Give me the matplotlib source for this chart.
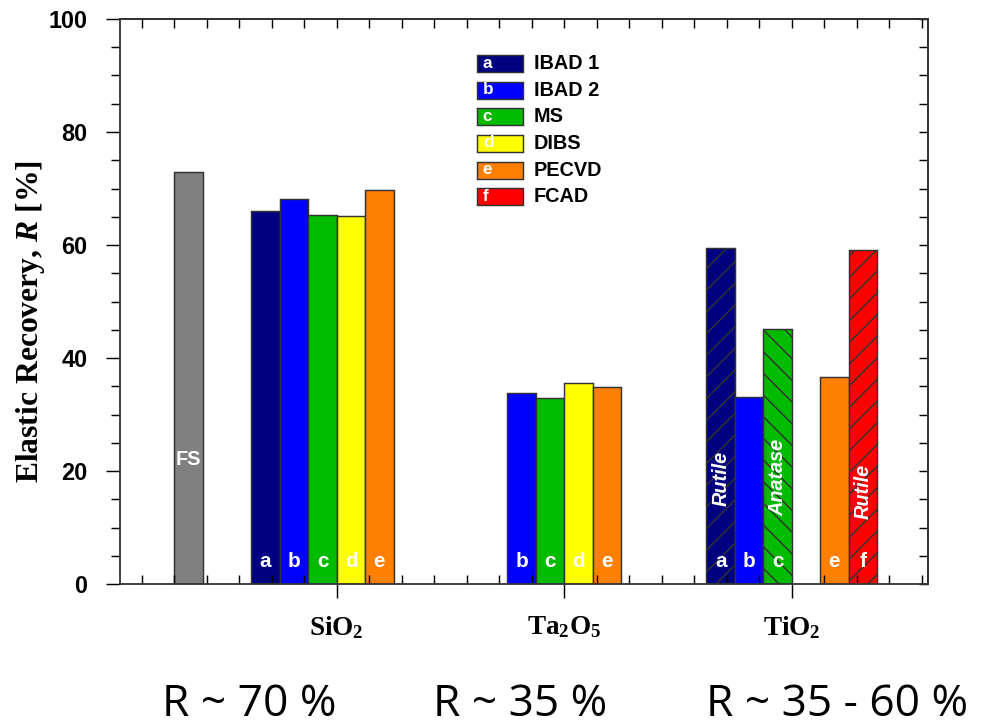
import numpy as np
import matplotlib
matplotlib.use("Agg")
import matplotlib.pyplot as plt
from matplotlib.patches import Rectangle

# Elastic recovery R [%] per deposition method and oxide
methods = ['IBAD 1', 'IBAD 2', 'MS', 'DIBS', 'PECVD', 'FCAD']
letters = ['a', 'b', 'c', 'd', 'e', 'f']
colors = ['#000080', '#0000FF', '#00BB00', '#FFFF00', '#FF8000', '#FF0000']

oxides = ['SiO$_\\mathbf{2}$', 'Ta$_\\mathbf{2}$O$_\\mathbf{5}$', 'TiO$_\\mathbf{2}$']
sio2 = [66.0, 68.1, 65.3, 65.1, 69.7, np.nan]
ta2o5 = [np.nan, 33.8, 32.9, 35.5, 34.8, np.nan]
tio2 = [59.4, 33.1, 45.1, np.nan, 36.7, 59.2]
fs_value = 72.9

tio2_phase = ['Rutile', '', 'Anatase', '', '', 'Rutile']
tio2_hatch = ['//', '', '\\\\', '', '', '//']
tio2_phase_y = [18.6, 0, 18.8, 0, 0, 16.3]

summary = ['R ~ 70 %', 'R ~ 35 %', 'R ~ 35 - 60 %']

DPI = 130
plt.rcParams['mathtext.fontset'] = 'custom'
plt.rcParams['mathtext.rm'] = 'Liberation Serif:bold'
plt.rcParams['mathtext.bf'] = 'Liberation Serif:bold'
plt.rcParams['mathtext.it'] = 'Liberation Serif:bold:italic'
plt.rcParams['hatch.linewidth'] = 0.8

fig = plt.figure(figsize=(981 / DPI, 728 / DPI), dpi=DPI)
ax = fig.add_axes([120 / 981, 1 - 584 / 728, 808 / 981, 565 / 728])

centers = [6, 13, 20]
w = 0.875
edge = '#333333'
groups = [sio2, ta2o5, tio2]

# fused silica reference bar
ax.bar(1.0, fs_value, width=w, align='edge', color='#808080', edgecolor=edge, linewidth=0.8)
ax.text(1.0 + w / 2, 22, 'FS', color='white', fontsize=11, fontweight='bold',
        family='Liberation Sans', ha='center', va='center')

for g, (c, vals) in enumerate(zip(centers, groups)):
    for i, v in enumerate(vals):
        if np.isnan(v):
            continue
        left = c + (i - 3) * w
        hatch = tio2_hatch[i] if g == 2 else None
        ax.bar(left, v, width=w, align='edge', color=colors[i], edgecolor=edge,
               linewidth=0.8, hatch=hatch)
        ax.text(left + w / 2, 3.0, letters[i], color='white', fontsize=11.5,
                fontweight='bold', family='Liberation Sans', ha='center', va='baseline')
        if g == 2 and tio2_phase[i]:
            ax.text(left + w / 2, tio2_phase_y[i], tio2_phase[i], color='white',
                    fontsize=11, fontweight='bold', fontstyle='italic',
                    family='Liberation Sans', rotation=90, ha='center', va='center')

ax.set_xlim(-0.668, 24.19)
ax.set_ylim(0, 100)

ax.set_xticks(centers)
ax.set_xticklabels(oxides, fontsize=15, family='Liberation Serif', fontweight='bold')
ax.set_xticks(np.arange(0, 25), minor=True)
ax.tick_params(axis='x', which='major', direction='out', length=8, width=0.8, pad=9)
ax.tick_params(axis='x', which='minor', direction='in', length=5, width=0.8)

ax.set_yticks(np.arange(0, 101, 20))
ax.set_yticks(np.arange(0, 101, 5), minor=True)
ax.tick_params(axis='y', which='major', direction='out', length=8, width=0.8, pad=10)
ax.tick_params(axis='y', which='minor', direction='out', length=5, width=0.8)
for lab in ax.get_yticklabels():
    lab.set_fontsize(13)
    lab.set_fontweight('bold')
    lab.set_family('Liberation Sans')

top = ax.secondary_xaxis('top')
top.set_xticks(np.arange(0, 25))
top.tick_params(direction='in', length=5, width=0.8, labeltop=False)
right = ax.secondary_yaxis('right')
right.set_yticks(np.arange(0, 101, 5))
right.tick_params(direction='in', length=5, width=0.8, labelright=False)

for sp in list(ax.spines.values()) + [top.spines['top'], right.spines['right']]:
    sp.set_color('#333333')
    sp.set_linewidth(1.0)

ax.set_ylabel('Elastic Recovery, $\\mathit{R}$ [%]', fontsize=17.5,
              family='Liberation Serif', fontweight='bold')
ax.yaxis.set_label_coords(-0.111, 0.4646)
ax.yaxis.label.set_va('center')

# legend drawn by hand so each swatch can carry its letter
for i, (m, lt) in enumerate(zip(methods, letters)):
    yc = 0.921 - i * 0.0471
    ax.add_patch(Rectangle((0.442, yc - 0.015), 0.057, 0.030, transform=ax.transAxes,
                           facecolor=colors[i], edgecolor=edge, linewidth=0.8))
    ax.text(0.449, yc - 0.007, lt, transform=ax.transAxes, color='white', fontsize=9.5,
            fontweight='bold', family='Liberation Sans', ha='left', va='baseline')
    ax.text(0.512, yc, m, transform=ax.transAxes, fontsize=11, fontweight='bold',
            family='Liberation Sans', ha='left', va='center')

for x0, s in zip([162, 433, 706], summary):
    fig.text(x0 / 981, 1 - 716 / 728, s, fontsize=24.5, family='Open Sans',
             ha='left', va='baseline')

fig.savefig('out.png', dpi=DPI)
